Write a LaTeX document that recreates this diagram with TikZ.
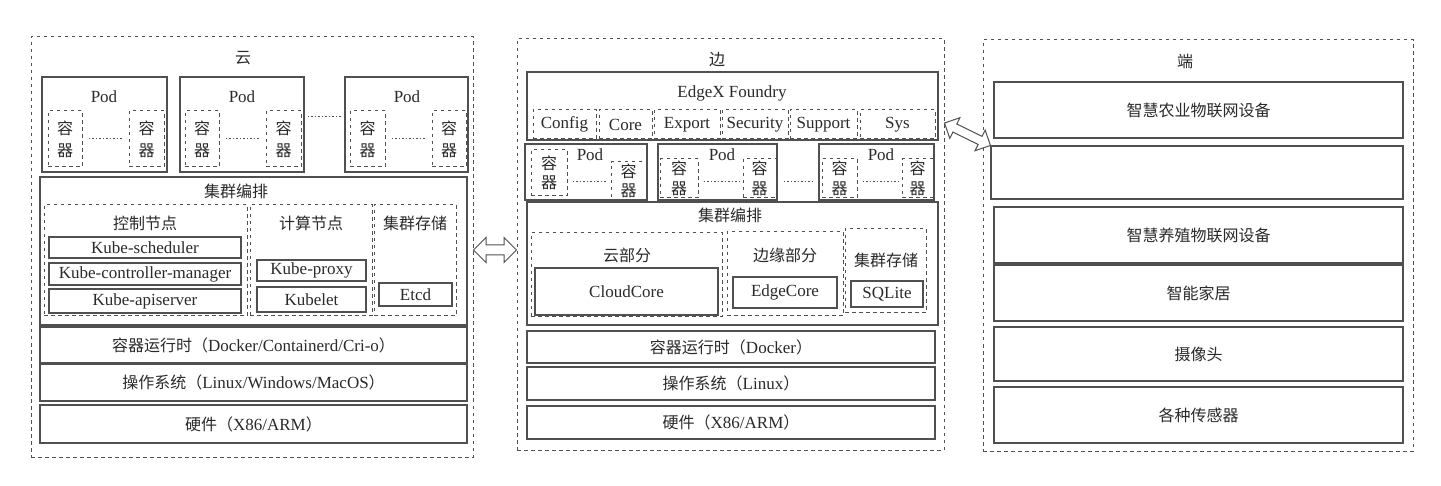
\documentclass[tikz,border=0pt]{standalone}
\usepackage{fontspec}
\setmainfont{Liberation Serif}
\newfontfamily\cjkfont{Noto Sans CJK SC}
\newcommand\zhs[1]{{\cjkfont\fontsize{16}{18}\selectfont #1}}
\usetikzlibrary{fit,shapes.arrows,calc}
\definecolor{linec}{HTML}{505050}
\definecolor{txt}{HTML}{2A2A2A}
\begin{document}
\begin{tikzpicture}[x=1pt,y=-1pt,
  every node/.style={text=txt, font=\fontsize{17}{20}\selectfont},
  box/.style={draw=linec, line width=1.1pt, inner sep=0pt},
  dbox/.style={draw=linec, line width=1pt, dash pattern=on 3.5pt off 3.5pt, inner sep=0pt},
  ctr/.style={dbox, label={[lbl, font=\cjkfont\fontsize{16}{22}\selectfont, align=center]center:容\\器}},
  ectr/.style={dbox, label={[lbl, font=\cjkfont\fontsize{16}{19.5}\selectfont, align=center]center:容\\器}},
  zh/.style={font=\cjkfont\fontsize{16}{18}\selectfont},
  lbl/.style={inner sep=0pt},
  tx/.style={label={[lbl]center:{#1}}},
  ztx/.style={label={[lbl, zh]center:{#1}}},
  dotln/.style={draw=linec, line width=1pt, dash pattern=on 1.5pt off 2pt},
  darrow/.style={double arrow, draw=linec, fill=white, line width=1pt, inner sep=4.5pt,
    double arrow head extend=7.5pt, double arrow head indent=0pt}]
\fill[white] (0,0) rectangle (1441,486);
\useasboundingbox (0,0) rectangle (1441,486);

% ================= Cloud =================
\node[dbox, fit={(31,37) (473,457)}] (cloud) {};
\node[lbl, zh] (cloudt) at (243,58) {云};
% pods
\node[box, fit={(42,77) (167,172)}] (cp1) {};
\node[lbl] (cp1t) at (104,97) {Pod};
\node[ctr, fit={(48,111) (82,167)}] (cp1a) {};
\node[ctr, fit={(129,111) (164,167)}] (cp1b) {};
\node[box, fit={(180,77) (304,172)}] (cp2) {};
\node[lbl] (cp2t) at (242,97) {Pod};
\node[ctr, fit={(185,111) (219,167)}] (cp2a) {};
\node[ctr, fit={(266,111) (301,167)}] (cp2b) {};
\node[box, fit={(345,77) (468,172)}] (cp3) {};
\node[lbl] (cp3t) at (407,97) {Pod};
\node[ctr, fit={(350,111) (385,167)}] (cp3a) {};
\node[ctr, fit={(432,111) (466,167)}] (cp3b) {};
\draw[dotln, shorten <=6pt, shorten >=5pt] (cp1a) -- (cp1b);
\draw[dotln, shorten <=6pt, shorten >=5pt] (cp2a) -- (cp2b);
\draw[dotln, shorten <=6pt, shorten >=5pt] (cp3a) -- (cp3b);
\coordinate (cpd) at (0,117);
\draw[dotln, shorten <=3pt, shorten >=3pt] (cp2.east |- cpd) -- (cp3.west |- cpd);
% orchestration
\node[box, fit={(40,177) (467,325)}] (corch) {};
\node[lbl, zh] (corcht) at (236,191) {集群编排};
\node[dbox, fit={(44,205) (247,316)}] (cctrl) {};
\node[lbl, zh] (cctrlt) at (145,223) {控制节点};
\node[box, fit={(49,237) (241,258)}, tx=Kube-scheduler] (ksch) {};
\node[box, fit={(49,263) (241,285)}, tx=Kube-controller-manager] (kcm) {};
\node[box, fit={(49,289) (241,313)}, tx=Kube-apiserver] (kapi) {};
\node[dbox, fit={(250,205) (372,316)}] (ccomp) {};
\node[lbl, zh] (ccompt) at (311,223) {计算节点};
\node[box, fit={(257,260) (366,281)}, tx=Kube-proxy] (kproxy) {};
\node[box, fit={(257,287) (366,312)}, tx=Kubelet] (klet) {};
\node[dbox, fit={(374,205) (456,316)}] (cstore) {};
\node[lbl, zh] (cstoret) at (415,223) {集群存储};
\node[box, fit={(379,283) (452,306)}, tx=Etcd] (etcd) {};
% layers
\node[box, fit={(40,327) (467,363)}, tx={\zhs{容器运行时（}Docker/Containerd/Cri-o\zhs{）}}] (crt) {};
\node[box, fit={(40,364) (467,401)}, tx={\zhs{操作系统（}Linux/Windows/MacOS\zhs{）}}] (cos) {};
\node[box, fit={(40,405) (467,443)}, tx={\zhs{硬件（}X86/ARM\zhs{）}}] (chw) {};

% ================= Edge =================
\node[dbox, fit={(517,39) (944,450)}] (edge) {};
\node[lbl, zh] (edget) at (717,60) {边};
\node[box, fit={(527,72) (938,140)}] (edgex) {};
\node[lbl] (edgext) at (732,93) {EdgeX Foundry};
\node[dbox, fit={(533,110) (596,139)}, tx=Config] (mcfg) {};
\node[dbox, fit={(599,110) (652,139)}, tx=Core] (mcore) {};
\node[dbox, fit={(654,110) (720,139)}, tx=Export] (mexp) {};
\node[dbox, fit={(722,110) (788,139)}, tx=Security] (msec) {};
\node[dbox, fit={(790,110) (857,139)}, tx=Support] (msup) {};
\node[dbox, fit={(860,110) (935,139)}, tx=Sys] (msys) {};
% edge pods
\node[box, fit={(525,144) (647,200)}] (ep1) {};
\node[lbl] (ep1t) at (590,155) {Pod};
\node[ectr, fit={(531,150) (567,196)}] (ep1a) {};
\node[ectr, fit={(611,162) (646,200)}] (ep1b) {};
\node[box, fit={(658,144) (777,200)}] (ep2) {};
\node[lbl] (ep2t) at (722,155) {Pod};
\node[ectr, fit={(660,159) (698,198)}] (ep2a) {};
\node[ectr, fit={(743,159) (776,198)}] (ep2b) {};
\node[box, fit={(819,144) (934,200)}] (ep3) {};
\node[lbl] (ep3t) at (881,155) {Pod};
\node[ectr, fit={(822,159) (857,198)}] (ep3a) {};
\node[ectr, fit={(902,159) (933,198)}] (ep3b) {};
\coordinate (epd) at (0,182);
\draw[dotln, shorten <=5pt, shorten >=3pt] (ep1a.east |- epd) -- (ep1b.west |- epd);
\draw[dotln, shorten <=5pt, shorten >=3pt] (ep2a.east |- epd) -- (ep2b.west |- epd);
\draw[dotln, shorten <=5pt, shorten >=3pt] (ep3a.east |- epd) -- (ep3b.west |- epd);
\draw[dotln, shorten <=6pt, shorten >=6pt] (ep2.east |- epd) -- (ep3.west |- epd);
% edge orchestration
\node[box, fit={(527,202) (938,325)}] (eorch) {};
\node[lbl, zh] (eorcht) at (730,215) {集群编排};
\node[dbox, fit={(531,233) (722,317)}] (ecloud) {};
\node[lbl, zh] (ecloudt) at (627,255) {云部分};
\node[box, fit={(535,268) (718,315)}, tx=CloudCore] (ccore) {};
\node[dbox, fit={(727,232) (843,316)}] (eedge) {};
\node[lbl, zh] (eedget) at (785,255) {边缘部分};
\node[box, fit={(733,277) (837,308)}, tx=EdgeCore] (ecore) {};
\node[dbox, fit={(845,229) (926,313)}] (estore) {};
\node[lbl, zh] (estoret) at (886,260) {集群存储};
\node[box, fit={(851,281) (923,307)}, tx=SQLite] (sqlite) {};
% layers
\node[box, fit={(527,331) (935,363)}, tx={\zhs{容器运行时（}Docker\zhs{）}}] (ert) {};
\node[box, fit={(527,367) (935,400)}, tx={\zhs{操作系统（}Linux\zhs{）}}] (eos) {};
\node[box, fit={(527,406) (935,439)}, tx={\zhs{硬件（}X86/ARM\zhs{）}}] (ehw) {};

% ================= Devices =================
\node[dbox, fit={(983,40) (1413,451)}] (dev) {};
\node[lbl, zh] (devt) at (1185,61) {端};
\node[box, fit={(994,82) (1403,138)}, ztx=智慧农业物联网设备] (d1) {};
\node[box, fit={(991,146) (1403,199)}] (d2) {};
\node[box, fit={(994,207) (1403,263)}, ztx=智慧养殖物联网设备] (d3) {};
\node[box, fit={(994,265) (1403,321)}, ztx=智能家居] (d4) {};
\node[box, fit={(994,327) (1403,381)}, ztx=摄像头] (d5) {};
\node[box, fit={(994,387) (1403,443)}, ztx=各种传感器] (d6) {};

% ================= Arrows =================
\coordinate (a1y) at (0,250);
\path let \p1=($(edge.west |- a1y)-(cloud.east |- a1y)$), \n1={veclen(\x1,\y1)} in
  node[darrow, minimum height=\n1] (arr1) at ($(cloud.east |- a1y)!0.5!(edge.west |- a1y)$) {};
\coordinate (a2y) at (0,123);
\path let \p1=($(d2.north west)-(edge.east |- a2y)$), \n1={atan2(\y1,\x1)}, \n2={veclen(\x1,\y1)} in
  node[darrow, inner sep=4pt, double arrow head extend=7pt, rotate=\n1, minimum height=\n2] (arr2)
  at ($(edge.east |- a2y)!0.5!(d2.north west)$) {};
\end{tikzpicture}
\end{document}
